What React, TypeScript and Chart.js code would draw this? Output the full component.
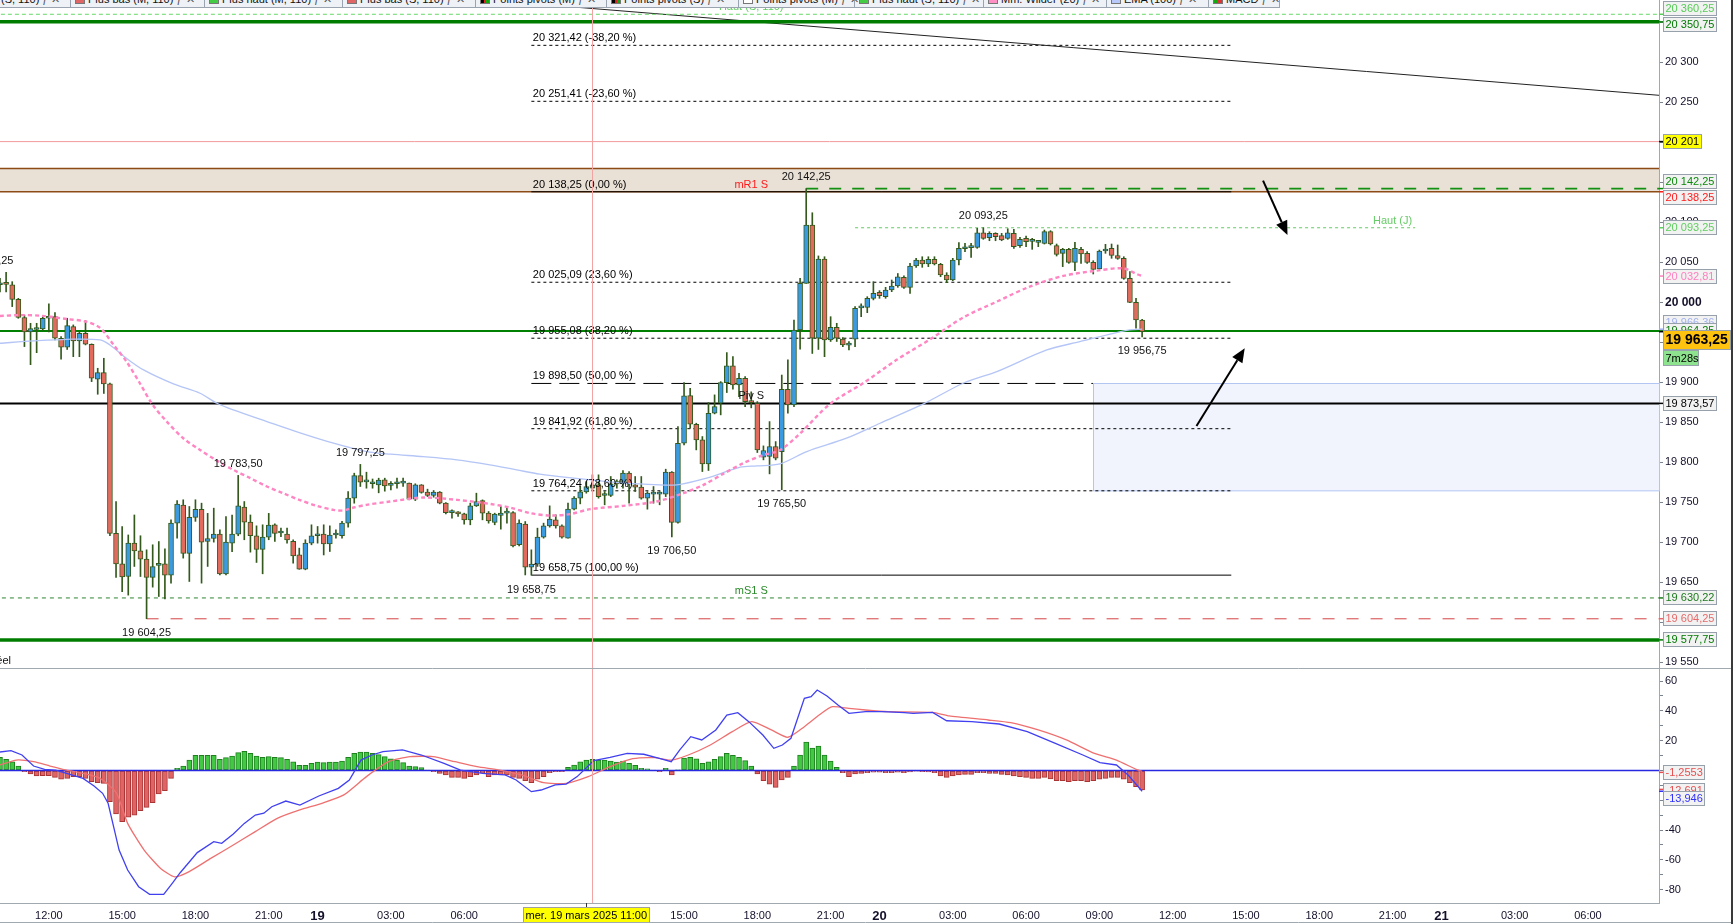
import React, { useEffect, useRef } from 'react';
import { Chart, registerables } from 'chart.js';
Chart.register(...registerables);

// ================= DATA =================
// 15-minute bars, index 0 = Tue 18 Mar 2025 10:00 (22:00-23:00 daily break skipped)
// [open, high, low, close]
const OHLC: number[][] = [
  [20022, 20030, 20013, 20023.5], [20023.5, 20037.5, 20013, 20022.5], [20021.7, 20025.8, 19994.6, 20003.75], [20003.75, 20005, 19980, 19981],
  [19981, 19984, 19944.6, 19963], [19963, 19973.75, 19922, 19967], [19966, 19973.75, 19937, 19967], [19966.7, 19982, 19965, 19980],
  [19980, 19998, 19963, 19981], [19982, 19987, 19953, 19955], [19955, 19957, 19928.75, 19943.75], [19943.75, 19980, 19941, 19970.8],
  [19969.6, 19971.7, 19932, 19951.7], [19951.7, 19963.3, 19932, 19961.25], [19961.25, 19977, 19946.7, 19947.5], [19947.5, 19948, 19900.8, 19905],
  [19903.75, 19917.5, 19885, 19912], [19912, 19930, 19886, 19898], [19898, 19899, 19708, 19711], [19711, 19750.8, 19656, 19672.9],
  [19672.9, 19719.6, 19638, 19656.5], [19657, 19709, 19633.75, 19698.75], [19698.75, 19734, 19669.6, 19689], [19689, 19708, 19657, 19678.75],
  [19678.75, 19690.4, 19604.25, 19656], [19656, 19696.7, 19643.75, 19669.6], [19671, 19700.8, 19632, 19673], [19672.9, 19691.7, 19629, 19658.75],
  [19658.75, 19728, 19648.75, 19723.75], [19723.75, 19752, 19705, 19747.5], [19746.25, 19753, 19680, 19686], [19686, 19744.6, 19650.8, 19731],
  [19731, 19753, 19726, 19741], [19741, 19748.75, 19648.75, 19700], [19700.8, 19736, 19669.6, 19704.6], [19704.6, 19742.5, 19700, 19710],
  [19710, 19715.4, 19659, 19660.4], [19660.4, 19732, 19659, 19700], [19698.75, 19734, 19688, 19710], [19710, 19783.5, 19708, 19745.4],
  [19743.75, 19750.8, 19703, 19725], [19725, 19734, 19687.5, 19708], [19708, 19720.4, 19674.6, 19691], [19691, 19721.7, 19660.4, 19706.25],
  [19706.25, 19736, 19703, 19721.25], [19721.7, 19723, 19700.8, 19711], [19711.5, 19717.5, 19707, 19712], [19710, 19717.5, 19698.75, 19702.9],
  [19701, 19703, 19673.75, 19682.9], [19684, 19692.5, 19666, 19666.25], [19666.25, 19703, 19665.4, 19698.75], [19698.75, 19721.7, 19696.7, 19708],
  [19708, 19719.6, 19698.75, 19710], [19710, 19721.7, 19684, 19697.9], [19697.9, 19720.4, 19688.3, 19709], [19709, 19715.4, 19705, 19710],
  [19708, 19726, 19705, 19723.75], [19723.75, 19763.3, 19718.75, 19755], [19755, 19786.25, 19748.75, 19783.3], [19783.3, 19797.25, 19769.6, 19775],
  [19775.4, 19787.5, 19767.5, 19775.8], [19773, 19779, 19767.5, 19773.5], [19771.7, 19780, 19761.7, 19777.5], [19777.9, 19780, 19763.75, 19770.4],
  [19771, 19775.8, 19765.4, 19771.25], [19773, 19780, 19767.5, 19773.5], [19773.75, 19780, 19769.6, 19774], [19773.75, 19774, 19752.9, 19753.75],
  [19753.75, 19773, 19752, 19771.7], [19771.7, 19772, 19761.25, 19762.1], [19762.5, 19766.25, 19757, 19758.3], [19758.3, 19764.6, 19756.25, 19762.5],
  [19762.5, 19763.3, 19747.9, 19748.75], [19748.75, 19749.6, 19735.4, 19737], [19737, 19740.4, 19730, 19737.5], [19735.8, 19738.3, 19732.1, 19735.4],
  [19735.4, 19736.25, 19722.5, 19727.9], [19727.9, 19748.75, 19721.7, 19745.4], [19745.4, 19761.25, 19744.6, 19750.8], [19752, 19752.9, 19727.9, 19736.25],
  [19736.25, 19738.3, 19723.75, 19726.7], [19724.6, 19736.25, 19721.7, 19735], [19733.3, 19744.6, 19716.25, 19736.25], [19736.25, 19744.6, 19723.75, 19738.3],
  [19737, 19738.3, 19694, 19695.4], [19696.7, 19727.9, 19695.4, 19723.75], [19722.5, 19725.8, 19659, 19668.75], [19668.75, 19690.4, 19658.75, 19672.5],
  [19672.5, 19717.5, 19669.6, 19706.25], [19706.25, 19723.75, 19705, 19720.4], [19720.4, 19745.4, 19718.75, 19728.75], [19727.9, 19734.2, 19717.5, 19720.4],
  [19720.4, 19721.7, 19705, 19706.25], [19705, 19748.75, 19705, 19741.25], [19741.25, 19757, 19740.4, 19755], [19755, 19769.6, 19747.9, 19762.9],
  [19762.9, 19775.8, 19761.25, 19769.6], [19767.5, 19784.2, 19765.4, 19771.7], [19771.7, 19784.2, 19755, 19757], [19758.3, 19763.3, 19746.7, 19758.7],
  [19758.3, 19782.1, 19757, 19772.9], [19775.8, 19777.9, 19767.5, 19772.9], [19772.9, 19789.6, 19767.5, 19786.25], [19786.25, 19788.3, 19748.75, 19772.5],
  [19771.7, 19782.1, 19763.3, 19768.75], [19768.75, 19782.1, 19753.75, 19755], [19755, 19763.3, 19741.25, 19761.25], [19760, 19769.6, 19748.75, 19760.25],
  [19760, 19763.3, 19746.7, 19760.25], [19760, 19791.25, 19757, 19787.5], [19787.5, 19788.3, 19706.5, 19724.6], [19724.6, 19844.6, 19723.75, 19823.75],
  [19823.75, 19899.6, 19821.7, 19882.9], [19883.3, 19892.5, 19842.5, 19847.5], [19847.5, 19848.75, 19815.4, 19827.9], [19827.9, 19832.1, 19788.3, 19797.9],
  [19797.9, 19874.6, 19789.6, 19861.25], [19861.25, 19884.2, 19860.4, 19869.6], [19873.75, 19900.8, 19859.2, 19899.6], [19899.6, 19937.1, 19887.1, 19920.4],
  [19920.4, 19932.1, 19891.25, 19896.7], [19896.7, 19911.25, 19882.1, 19905], [19905, 19907.1, 19869.6, 19875.8], [19876, 19888, 19868, 19874.6],
  [19873.75, 19875.8, 19812.1, 19815.4], [19806.25, 19820.4, 19802.9, 19814.6], [19807.1, 19850.8, 19785.4, 19819.6], [19819.6, 19825.8, 19802.9, 19805],
  [19813.3, 19909, 19765.5, 19891.25], [19891.25, 19928, 19861.25, 19871.7], [19871.7, 19977.9, 19869.6, 19965.4], [19965.4, 20030, 19941.25, 20023.75],
  [20023.75, 20142.25, 20023.75, 20096.7], [20096.7, 20112, 19936, 19955], [19955, 20058, 19941, 20054], [20054, 20057, 19932, 19953],
  [19953, 19982, 19951, 19968.75], [19968.75, 19973.75, 19951, 19955], [19954, 19955.8, 19944.6, 19946.7], [19946.5, 19950.8, 19940.4, 19946.7],
  [19954, 19994.6, 19944.6, 19992.5], [19993, 19998, 19982, 19994], [19993.75, 20007, 19987, 20005], [20005, 20025.8, 20003, 20011.25],
  [20012.5, 20014.6, 20005, 20008.3], [20007, 20018.75, 20005, 20015.4], [20015.4, 20027.9, 20013.3, 20020.4], [20020.4, 20036, 20018.75, 20032],
  [20031.25, 20033, 20017.5, 20018.75], [20018.75, 20048.75, 20011.25, 20045.4], [20045.4, 20055, 20043.75, 20052.9], [20052.9, 20057, 20043.75, 20047.9],
  [20047.9, 20057, 20044.6, 20053.75], [20053.75, 20057, 20046.7, 20047.9], [20047.5, 20048.75, 20032, 20034.2], [20034.2, 20037, 20024.6, 20027.9],
  [20027.9, 20055, 20027, 20052.9], [20052.9, 20074.6, 20046.7, 20067.5], [20067, 20073.75, 20063.3, 20067.5], [20068.3, 20073.75, 20056.25, 20068.75],
  [20068.75, 20092.5, 20067.5, 20087], [20087, 20093.25, 20078.75, 20080], [20080.8, 20088.3, 20077, 20086.25], [20086.25, 20087, 20077, 20082],
  [20083.3, 20086.25, 20077, 20078], [20080, 20092, 20078.75, 20087], [20086.25, 20091.25, 20067.5, 20069.6], [20070.8, 20081.25, 20068.75, 20078.75],
  [20080, 20082.9, 20069.6, 20075.8], [20076.25, 20080, 20066.25, 20076.7], [20075, 20077, 20069.6, 20075.4], [20073.75, 20090.4, 20072.9, 20088.3],
  [20088.3, 20089.6, 20071.7, 20072.9], [20070.8, 20072.9, 20057.9, 20060], [20061.25, 20067.5, 20044.6, 20066.25], [20066.25, 20067.5, 20048.75, 20050],
  [20050, 20075, 20039.6, 20067.5], [20066.25, 20068.75, 20048.75, 20060.4], [20061.25, 20063.3, 20048.75, 20050], [20050, 20052, 20035.4, 20041.25],
  [20041.7, 20065.4, 20041.25, 20064.2], [20064.2, 20072.5, 20061.25, 20066.7], [20067.5, 20072.9, 20055, 20058.75], [20058.3, 20071.7, 20053.75, 20055],
  [20055, 20057, 20028.75, 20030], [20030, 20038.3, 19999.6, 20000], [20000, 20005, 19967.5, 19977.9], [19977.9, 19978.75, 19956.75, 19963.25],
];

// MACD histogram, one value per bar
const HIST: number[] = [
  8.8, 7.5, 5.9, 3, -0.8, -2.3, -3.7, -3.5, -3.5, -4.6, -5.9, -5.3, -4.1, -4.1, -5.3, -7.5, -8.2, -8.6, -20.9, -29.2,
  -34.3, -31.4, -29.9, -27, -24.7, -21.6, -15.8, -13.5, -5.3, 1.5, 3, 7, 10.2, 10.2, 10.2, 10.2, 7.5, 8.6, 9.7, 12,
  12.9, 11.5, 9.7, 8.8, 9.3, 8.8, 8.6, 7.5, 5.9, 3.5, 3.5, 4.8, 5.7, 5.3, 5.7, 5.7, 6.4, 8.8, 11.5, 12.4,
  12.4, 11.5, 10.6, 9.3, 7.9, 7, 5.3, 3, 2.6, 1.9, 0.3, -0.8, -1.9, -3, -4.6, -4.6, -5.3, -4.1, -3, -1.5,
  -4.1, -3, -3, -3, -4.6, -5.3, -6.8, -8.2, -5.9, -4.1, -1.5, -0.8, -0.8, 2.1, 3.7, 5.9, 7, 7.5, 7, 7,
  6.4, 5.7, 6.4, 4.8, 3.5, 1.5, 1.2, 0.3, -0.8, 1.5, -3, 0.5, 8.4, 8.8, 7.9, 4.8, 5.9, 7.5, 9.3, 11.5,
  10.2, 8.8, 6.6, 3, -2.3, -6.8, -9.1, -11.3, -6.4, -4.6, 3, 10.4, 19.1, 15.1, 16.4, 10.4, 6.4, 2.1, -1.5, -4.1,
  -2.3, -1.9, -1.5, -1.2, -1.2, -1.5, -1.5, -1.2, -1.5, -1, -0.5, -0.8, -1, -1.5, -3.7, -4.6, -3.7, -3, -2.6, -2.6,
  -1.5, -1.5, -1.9, -1.9, -2.6, -3, -3.7, -4.1, -4.6, -5.3, -5.3, -4.6, -5.7, -6.8, -6.8, -7.5, -6.8, -6.8, -7.5, -6.8,
  -5.9, -5.3, -4.6, -4.6, -5.9, -8.2, -10.8, -13.1,
];

// MACD line [bar index, value]
const MACD_PTS: number[][] = [
  [0, 12.4], [1.8, 13.3], [3.6, 10.4], [5.5, 3], [7.3, 0.8], [9.1, 0.3], [10.9, -1.9], [13.6, -5.3], [15.4, -10.4], [16.8, -15.3],
  [17.7, -22], [18.6, -37.7], [19.5, -53.4], [20.9, -66.8], [22.7, -78], [24.5, -83.1], [26.8, -83.1], [28.2, -75.7], [29.5, -68.6], [32.3, -55.1],
  [35, -47.8], [36.3, -48.9], [38.2, -42.6], [40, -35.5], [41.8, -29.9], [43.2, -28.7], [44.5, -24.3], [46.8, -20.5], [49.1, -23.2], [52.2, -17.1],
  [55.4, -12], [57.2, -6.4], [59.1, 7], [60.9, 10.4], [62.7, 12.6], [65.9, 13.8], [69, 10.4], [72.7, 4.8], [75.4, 0.3], [79, -1.9],
  [82.7, -3], [84.5, -6.4], [87, -14.2], [88.6, -13.1], [90.9, -9.7], [92.7, -9.1], [94.5, -4.1], [97.2, 6.6], [99.9, 8.8], [102.7, 11.5],
  [105.4, 10.9], [108.1, 7.9], [109.9, 5.9], [111.3, 13.8], [113.1, 22.7], [114.9, 20.5], [117.2, 27.2], [119, 37.2], [120.8, 38.8], [122.6, 32.8],
  [124.9, 23.8], [126.7, 14.9], [128.1, 17.1], [129.5, 21.6], [131.7, 48.4], [132.8, 49.6], [133.8, 54], [135.4, 50], [137.2, 44], [139, 38.4],
  [141.7, 39.5], [144.5, 39.5], [148.1, 38.8], [149.5, 38.4], [152.7, 39], [155, 33.4], [159.1, 32.8], [163.6, 31.2], [168.2, 26.1], [172.8, 18.2],
  [177.3, 10.4], [180.1, 5.3], [182.8, 3.7], [184.7, -3], [187, -13.946],
];

// Signal line [bar index, value]
const SIGNAL_PTS: number[][] = [
  [0, 3.7], [2.7, 7], [5.5, 5.9], [8.2, 3], [10.9, 0.3], [13.6, -1.9], [16.4, -5.3], [19.1, -15.3], [20.9, -35.5], [23.6, -53.4],
  [26.3, -65.7], [28.6, -71.4], [30.9, -68], [34.5, -59], [38.2, -50], [41.8, -41], [45.4, -32.1], [49.1, -26.5], [52.7, -22], [56.3, -16.4],
  [60, -4.1], [63.6, 5.9], [67.2, 9.3], [70.9, 9.3], [74.5, 5.9], [78.1, 2.6], [81.8, 0.3], [85.4, -3], [89, -8.2], [92.7, -8.6],
  [96.3, -4.1], [99.9, 2.6], [103.6, 7.9], [107.2, 8.6], [109.9, 7], [112.7, 10.4], [116.3, 17.1], [119.9, 26.1], [123.1, 32.8], [126.3, 27.2],
  [129, 22.3], [131.7, 29.4], [134.5, 38.4], [136.3, 42.8], [139, 41.7], [141.7, 40.6], [145.4, 39.5], [152.7, 39], [155.4, 36.6], [161.8, 33.9],
  [165.5, 32.1], [170, 27.2], [174.6, 20.5], [179.2, 11.5], [182.8, 7], [186, 0.8], [187, -0.6],
];

// Mm. Wilder (20) - pink dashed [bar index, price]
const WILDER_PTS: number[][] = [
  [0, 19982.9], [3.3, 19984], [7, 19983], [11, 19979], [14, 19976], [16.4, 19968], [18.6, 19946.7], [20.7, 19926], [22.9, 19898.75], [25, 19871.7],
  [27.3, 19850.8], [30, 19830], [32.75, 19815.4], [35.5, 19802], [38.2, 19790.4], [41, 19780], [43.7, 19769.6], [46.4, 19761], [49, 19752.9], [51.9, 19745.4],
  [54.6, 19740.4], [56.2, 19739.6], [57.9, 19743.3], [60, 19746.7], [63.85, 19750.8], [69.3, 19755.8], [74.8, 19752.9], [80.2, 19747.9], [83.5, 19743.3], [86.8, 19736.25],
  [90.05, 19733.3], [93.3, 19735], [96.6, 19741.25], [102.1, 19745.4], [107.5, 19750.8], [111.9, 19761.25], [115.2, 19771.7], [118.4, 19785.4], [121.7, 19798.75], [125, 19809],
  [127.7, 19815], [131, 19836], [135.9, 19872.9], [141.3, 19898.75], [146.8, 19928], [152.3, 19953.75], [157.7, 19981], [163.2, 20000.8], [168.6, 20019.6], [174.1, 20033],
  [179.6, 20039.6], [183.9, 20042.5], [186.1, 20035.4], [187, 20032.81],
];

// EMA (100) - light blue [bar index, price]
const EMA100_PTS: number[][] = [
  [0, 19948.75], [5.5, 19951.7], [11, 19953.75], [16.4, 19953], [18, 19946.7], [20.7, 19930], [23.5, 19915.4], [28.4, 19897.9], [32.75, 19886.25], [35.5, 19873.75],
  [38.2, 19865.4], [43.7, 19850.8], [49, 19837], [54.6, 19823.75], [60, 19813.3], [64, 19810], [69.3, 19807], [74.8, 19803], [80.2, 19796.7], [84.6, 19790.4],
  [88.4, 19785], [93.9, 19780], [99.3, 19775.8], [104.8, 19772.9], [110.8, 19771.7], [115.7, 19780], [121.2, 19793.75], [123.9, 19795.4], [127.7, 19797.9], [132.1, 19813.3],
  [138.6, 19830], [144.1, 19848.75], [151.2, 19872.9], [157.7, 19898.75], [163.2, 19913.3], [171.4, 19940.4], [176.8, 19950.8], [182.3, 19961.25], [185, 19965.4], [187, 19966.36],
];

// Fibonacci retracement
const FIB_PRICES = [20321.42, 20251.41, 20138.25, 20025.09, 19955.08, 19898.5, 19841.92, 19764.24, 19658.75];
const FIB_PCTS = [-38.2, -23.6, 0, 23.6, 38.2, 50, 61.8, 78.6, 100];
const FIB_FROM = 87;
const FIB_TO = 201.6;
const FIB_MID_TO = 178.95;

// Pivot points
const PIVOT_NAMES = ['mR1 S', 'Piv S', 'mS1 S'];
const PIVOT_PRICES = [20138.25, 19873.57, 19630.22];
const PIVOT_LABEL_AT = 123;

// Other levels
const HAUT_S = 20360.25;
const HAUT_M = 20350.75;
const BAS_M = 19577.75;
const BAS_S = 19604.25;
const BAS_S_FROM = 24;
const RED_LEVEL = 20201;
const GREEN_LEVEL = 19964.25;
const HIGH_LEVEL = 20142.25;
const HIGH_LEVEL_FROM = 132;
const HAUT_J = 20093.25;
const HAUT_J_FROM = 140;
const HAUT_J_TO = 231.7;
const ZONE_TOP = 20167.5;
const ZONE_BOTTOM = 20138.25;
const BOX_TOP = 19898.5;
const BOX_BOTTOM = 19764.24;
const BOX_FROM = 178.95;
const TREND_X = [80, 271.63];
const TREND_Y = [20378.0, 20258.9];
const ARROWS: number[][] = [[206.8, 20152.1, 210.8, 20084.2], [195.9, 19845.3, 203.8, 19942.5]];

// Extreme labels [bar index, price, 1 = high / 0 = low]
const EXTREMES: number[][] = [
  [-1.8, 20037.25, 1], [39, 19783.5, 1], [59, 19797.25, 1], [132, 20142.25, 1], [161, 20093.25, 1],
  [24, 19604.25, 0], [87, 19658.75, 0], [110, 19706.5, 0], [128, 19765.5, 0], [187, 19956.75, 0],
];

// Price axis
const PRICE_TICKS = [19550, 19600, 19650, 19700, 19750, 19800, 19850, 19900, 19950, 20000, 20050, 20100, 20150, 20200, 20250, 20300, 20350];
const AXIS_TAG_PRICES = [20360.25, 20350.75, 20201, 20142.25, 20138.25, 20093.25, 20032.81, 19966.36, 19964.25, 19873.57, 19630.22, 19604.25, 19577.75];
const COUNTDOWN = '7m28s';

// MACD axis
const MACD_TICKS = [-80, -70, -60, -50, -40, -30, -20, -10, 0, 10, 20, 30, 40, 50, 60];
const MACD_TAG_VALUES = [-1.2553, -12.691, -13.946];

// Time axis
const TIME_TICK_IDX = [8, 20, 32, 44, 52, 64, 76, 112, 124, 136, 144, 156, 168, 180, 192, 204, 216, 228, 236, 248, 260];
const TIME_TICK_LABELS = ['12:00', '15:00', '18:00', '21:00', '19', '03:00', '06:00', '15:00', '18:00', '21:00', '20', '03:00', '06:00', '09:00', '12:00', '15:00', '18:00', '21:00', '21', '03:00', '06:00'];
const CURSOR_IDX = 97;
const CURSOR_LABEL_IDX = 96;
const CURSOR_LABEL = 'mer. 19 mars 2025 11:00';

// Toolbar
const TAB_LABELS = ['(S, 110)', 'Plus bas (M, 110)', 'Plus haut (M, 110)', 'Plus bas (S, 110)', 'Points pivots (M)', 'Points pivots (S)', 'Points pivots (M)', 'Plus haut (S, 110)', 'Mm. Wilder (20)', 'EMA (100)', 'MACD'];

// ================= STYLE / LAYOUT =================
const FONT = '"Liberation Sans", Arial, Helvetica, sans-serif';
const W = 1735;
const PLOT_RIGHT = 1659;
const PRICE_H = 669;
const MACD_H = 255;
const X_MIN = 0;
const X_MAX = 271.63;
const Y_MAX = 20378.11;
const Y_MIN = 19541.34;
const M_MAX = 68.12;
const M_MIN = -88.93;
const WICK = '#335a1c';
const UP = '#3a9ae2';
const DOWN = '#e36b5e';
const TAB_WIDTHS = [71, 134, 138, 133, 131, 132, 116, 129, 123, 102, 71];
const TAB_SWATCH = ['', '#e06666', '#44cc44', '#e06666', 'p', 'p', '#ffffff', '#44cc44', '#ff8fc4', '#b8c8f8', 'm'];
const TAG_COLORS = ['#55cc55', '#007a00', '#000000', '#0a8a0a', '#ff1a1a', '#5fcf5f', '#ff7fbf', '#9fb0ee', '#0a7a0a', '#000000', '#1d7a1d', '#e66a6a', '#007a00'];
const TAG_DY = [-6, 3, 0, -7, 6, 0, 0, -7, 0, 0, 0, 0, 0];
const MTAG_COLORS = ['#e65050', '#e65050', '#3030ff'];
const MTAG_DY = [0, 1, 7];

const fmt = (v: number, d = 2) => {
  const s = Math.abs(v).toFixed(d);
  const parts = s.split('.');
  const intS = parts[0].replace(/\B(?=(\d{3})+(?!\d))/g, ' ');
  return (v < 0 ? '-' : '') + intS + (parts[1] ? ',' + parts[1] : '');
};
const fmtTag = (v: number) => (Number.isInteger(v) ? fmt(v, 0) : fmt(v, 2));

function hline(ctx: any, x1: number, y: number, x2: number) {
  ctx.beginPath(); ctx.moveTo(x1, y); ctx.lineTo(x2, y); ctx.stroke();
}
function vline(ctx: any, x: number, y1: number, y2: number) {
  ctx.beginPath(); ctx.moveTo(x, y1); ctx.lineTo(x, y2); ctx.stroke();
}
function text(ctx: any, s: string, x: number, y: number, color: string, align = 'left', font = `11px ${FONT}`) {
  ctx.font = font; ctx.fillStyle = color; ctx.textAlign = align; ctx.textBaseline = 'alphabetic'; ctx.fillText(s, x, y);
}
function tagBox(ctx: any, xl: number, yc: number, s: string, color: string, bg: string, font = `11px ${FONT}`, h = 15, w = 0) {
  ctx.font = font;
  const bw = w || Math.round(ctx.measureText(s).width + 5);
  const top = Math.round(yc - h / 2);
  ctx.fillStyle = bg; ctx.fillRect(xl, top, bw, h);
  ctx.strokeStyle = '#97a1ab'; ctx.lineWidth = 1; ctx.strokeRect(xl + 0.5, top + 0.5, bw - 1, h - 1);
  ctx.fillStyle = color; ctx.textAlign = 'left'; ctx.textBaseline = 'middle';
  ctx.fillText(s, xl + 2.5, top + h / 2 + 0.5);
}
function arrow(ctx: any, x1: number, y1: number, x2: number, y2: number) {
  const a = Math.atan2(y2 - y1, x2 - x1);
  const L = 14, hw = 6;
  const bx = x2 - L * Math.cos(a), by = y2 - L * Math.sin(a);
  ctx.strokeStyle = '#000'; ctx.lineWidth = 2;
  ctx.beginPath(); ctx.moveTo(x1, y1); ctx.lineTo(bx, by); ctx.stroke();
  ctx.fillStyle = '#000';
  ctx.beginPath(); ctx.moveTo(x2, y2);
  ctx.lineTo(bx + hw * Math.sin(a), by - hw * Math.cos(a));
  ctx.lineTo(bx - hw * Math.sin(a), by + hw * Math.cos(a));
  ctx.closePath(); ctx.fill();
}

const levelDs = (p: number, from: number, to: number, color: string, width: number, dash: number[] = [], order = 6) => ({
  type: 'line', data: [{ x: from, y: p }, { x: to, y: p }], borderColor: color, borderWidth: width,
  borderDash: dash, pointRadius: 0, fill: false, order, tension: 0,
});

const pricePlugin = {
  id: 'priceDecor',
  beforeDatasetsDraw(chart: any) {
    const { ctx, chartArea: a, scales } = chart;
    const x = scales.x, y = scales.y;
    ctx.save();
    const zt = y.getPixelForValue(ZONE_TOP), zb = y.getPixelForValue(ZONE_BOTTOM);
    ctx.fillStyle = '#e9e0d6'; ctx.fillRect(a.left, zt, a.right - a.left, zb - zt);
    ctx.strokeStyle = '#8c4a14'; ctx.lineWidth = 1.5;
    hline(ctx, a.left, zt, a.right); hline(ctx, a.left, zb, a.right);
    const bx = x.getPixelForValue(BOX_FROM), bt = y.getPixelForValue(BOX_TOP), bb = y.getPixelForValue(BOX_BOTTOM);
    ctx.fillStyle = '#f1f4fd'; ctx.fillRect(bx, bt, a.right - bx, bb - bt);
    ctx.strokeStyle = '#b3c6f3'; ctx.lineWidth = 1;
    ctx.strokeRect(Math.round(bx) + 0.5, Math.round(bt) + 0.5, a.right - bx, bb - bt);
    ctx.restore();
  },
  afterDatasetsDraw(chart: any) {
    const { ctx, scales } = chart;
    const x = scales.x, y = scales.y;
    ctx.save();
    FIB_PRICES.forEach((p, i) => {
      const s = `${fmt(p)} (${FIB_PCTS[i].toFixed(2).replace('.', ',')} %)`;
      text(ctx, s, x.getPixelForValue(FIB_FROM) + 1.5, y.getPixelForValue(p) - 4, '#000');
    });
    const pcol = ['#ff1a1a', '#111111', '#2a8a2a'];
    PIVOT_NAMES.forEach((n, i) => {
      text(ctx, n, x.getPixelForValue(PIVOT_LABEL_AT), y.getPixelForValue(PIVOT_PRICES[i]) - 4, pcol[i], 'center');
    });
    text(ctx, 'Haut (S, 110)', x.getPixelForValue(PIVOT_LABEL_AT), y.getPixelForValue(HAUT_S) - 4, '#5fd05f', 'center');
    text(ctx, 'Haut (J)', x.getPixelForValue(HAUT_J_TO) - 3, y.getPixelForValue(HAUT_J) - 4, '#66cc66', 'right');
    EXTREMES.forEach(([i, p, hi]) => {
      const px = x.getPixelForValue(i), py = y.getPixelForValue(p);
      text(ctx, fmt(p), px, hi ? py - 8.5 : py + 17.5, '#111', 'center');
    });
    ARROWS.forEach(([i1, p1, i2, p2]) => {
      arrow(ctx, x.getPixelForValue(i1), y.getPixelForValue(p1), x.getPixelForValue(i2), y.getPixelForValue(p2));
    });
    ctx.restore();
  },
  afterDraw(chart: any) {
    const { ctx, chartArea: a, scales } = chart;
    const x = scales.x, y = scales.y;
    ctx.save();
    ctx.strokeStyle = '#f4a3a3'; ctx.lineWidth = 1;
    vline(ctx, Math.round(x.getPixelForValue(CURSOR_IDX)) + 0.5, a.top, a.bottom);
    ctx.strokeStyle = '#a0a8b0';
    hline(ctx, 0, PRICE_H - 0.5, 1731);
    ctx.fillStyle = '#3a3a3a'; ctx.fillRect(1731, 0, 2, PRICE_H);
    text(ctx, 'MACD réel', 11, PRICE_H - 5, '#111', 'right');
    const xl = a.right + 4;
    AXIS_TAG_PRICES.forEach((p, i) => {
      const py = y.getPixelForValue(p);
      ctx.strokeStyle = TAG_COLORS[i]; ctx.lineWidth = 1.5;
      hline(ctx, a.right, py, xl);
      tagBox(ctx, xl, py + TAG_DY[i], fmtTag(p), TAG_COLORS[i], p === RED_LEVEL ? '#ffff00' : '#f2f2f2');
    });
    const last = OHLC[OHLC.length - 1][3];
    const ly = y.getPixelForValue(last);
    ctx.strokeStyle = '#000'; ctx.lineWidth = 1.5; hline(ctx, a.right, ly, xl);
    tagBox(ctx, xl, ly + 8, fmt(last), '#000', '#ffc20e', `bold 14px ${FONT}`, 20, 68);
    tagBox(ctx, xl, ly + 26, COUNTDOWN, '#000', '#8ee38e', `11px ${FONT}`, 16, 36);
    ctx.restore();
  },
};

const macdPlugin = {
  id: 'macdDecor',
  afterDraw(chart: any) {
    const { ctx, chartArea: a, scales } = chart;
    const x = scales.x, y = scales.y;
    ctx.save();
    ctx.strokeStyle = '#f4a3a3'; ctx.lineWidth = 1;
    vline(ctx, Math.round(x.getPixelForValue(CURSOR_IDX)) + 0.5, a.top, a.bottom);
    const cx = x.getPixelForValue(CURSOR_LABEL_IDX);
    ctx.strokeStyle = '#333'; vline(ctx, Math.round(cx) + 0.5, a.bottom, a.bottom + 4);
    ctx.font = `11px ${FONT}`;
    const tw = ctx.measureText(CURSOR_LABEL).width + 6;
    ctx.fillStyle = '#ffff00'; ctx.fillRect(Math.round(cx - tw / 2), a.bottom + 4, Math.round(tw), 16);
    ctx.strokeStyle = '#a0a0a0'; ctx.strokeRect(Math.round(cx - tw / 2) + 0.5, a.bottom + 4.5, Math.round(tw) - 1, 15);
    ctx.fillStyle = '#000'; ctx.textAlign = 'center'; ctx.textBaseline = 'middle';
    ctx.fillText(CURSOR_LABEL, cx, a.bottom + 12.5);
    ctx.strokeStyle = '#a0a8b0'; ctx.lineWidth = 1;
    hline(ctx, 0, MACD_H - 1.5, 1731);
    ctx.fillStyle = '#3a3a3a'; ctx.fillRect(1731, 0, 2, MACD_H);
    const xl = a.right + 4;
    MACD_TAG_VALUES.forEach((v, i) => {
      const py = y.getPixelForValue(v);
      ctx.strokeStyle = MTAG_COLORS[i]; ctx.lineWidth = 1.5;
      hline(ctx, a.right, py, xl);
      tagBox(ctx, xl, py + MTAG_DY[i], String(v).replace('.', ','), MTAG_COLORS[i], '#f2f2f2');
    });
    ctx.restore();
  },
};

function priceConfig(): any {
  const fibDs = FIB_PRICES.map((p, i) => {
    if (FIB_PCTS[i] === 50) return levelDs(p, FIB_FROM, FIB_MID_TO, '#000', 1, [20, 8], 7);
    if (FIB_PCTS[i] === 0 || FIB_PCTS[i] === 100) return levelDs(p, FIB_FROM, FIB_TO, '#000', 1, [], 7);
    return levelDs(p, FIB_FROM, FIB_TO, '#000', 1, [3, 3], 7);
  });
  return {
    type: 'bar',
    data: {
      datasets: [
        {
          type: 'line', data: WILDER_PTS.map(([i, v]) => ({ x: i, y: v })), borderColor: '#ff86c2', borderWidth: 2.4,
          borderDash: [4, 3], pointRadius: 0, tension: 0.3, order: 1,
        },
        {
          type: 'line', data: EMA100_PTS.map(([i, v]) => ({ x: i, y: v })), borderColor: '#b4c5f6', borderWidth: 1.3,
          pointRadius: 0, tension: 0.3, order: 2,
        },
        {
          type: 'bar', data: OHLC.map((c, i) => ({ x: i, y: [c[0], c[3]] })),
          backgroundColor: OHLC.map((c) => (c[3] >= c[0] ? UP : DOWN)), borderColor: WICK, borderWidth: 1,
          borderSkipped: false, barThickness: 5, grouped: false, minBarLength: 2, order: 3,
        },
        {
          type: 'bar', data: OHLC.map((c, i) => ({ x: i, y: [c[2], c[1]] })), backgroundColor: WICK,
          borderWidth: 0, barThickness: 1, grouped: false, minBarLength: 1, order: 4,
        },
        levelDs(HIGH_LEVEL, HIGH_LEVEL_FROM, X_MAX + 1, '#119011', 1.8, [12, 11], 5),
        levelDs(HAUT_J, HAUT_J_FROM, HAUT_J_TO, '#66cc66', 1, [3, 3], 5),
        levelDs(GREEN_LEVEL, X_MIN - 1, X_MAX + 1, '#008000', 2, [], 5),
        levelDs(PIVOT_PRICES[1], X_MIN - 1, X_MAX + 1, '#000', 2, [], 5),
        levelDs(PIVOT_PRICES[2], X_MIN - 1, X_MAX + 1, '#2e852e', 1, [4, 4], 5),
        levelDs(BAS_S, BAS_S_FROM, X_MAX + 1, '#e07a7a', 1.4, [12, 12], 5),
        levelDs(BAS_M, X_MIN - 1, X_MAX + 1, '#007c00', 3.5, [], 5),
        levelDs(HAUT_M, X_MIN - 1, X_MAX + 1, '#007c00', 3.5, [], 5),
        levelDs(HAUT_S, X_MIN - 1, X_MAX + 1, '#66d866', 1, [4, 3], 5),
        levelDs(RED_LEVEL, X_MIN - 1, X_MAX + 1, '#f29a9a', 1, [], 5),
        {
          type: 'line', data: TREND_X.map((v, i) => ({ x: v, y: TREND_Y[i] })), borderColor: '#222', borderWidth: 1,
          pointRadius: 0, order: 5,
        },
        ...fibDs,
      ],
    },
    options: {
      animation: false, responsive: false, events: [],
      layout: { padding: 0 },
      plugins: { legend: { display: false }, tooltip: { enabled: false } },
      scales: {
        x: { type: 'linear', min: X_MIN, max: X_MAX, offset: false, display: false, grid: { offset: false } },
        y: {
          type: 'linear', position: 'right', min: Y_MIN, max: Y_MAX, beginAtZero: false,
          grid: { drawOnChartArea: false, drawTicks: true, tickLength: 4, color: '#7a8490' },
          border: { color: '#a0a8b0' },
          ticks: {
            padding: 2, color: '#14102a', autoSkip: false,
            font: (c: any) => ({ family: FONT, size: c.tick && c.tick.value === 20000 ? 12 : 11, weight: c.tick && c.tick.value === 20000 ? 'bold' : 'normal' }),
            callback: (v: number) => fmt(v, 0),
          },
          afterBuildTicks: (s: any) => { s.ticks = PRICE_TICKS.map((v) => ({ value: v })); },
          afterFit: (s: any) => { s.width = W - PLOT_RIGHT; s.paddingTop = 0; s.paddingBottom = 0; },
        },
      },
    },
    plugins: [pricePlugin],
  };
}

function macdConfig(): any {
  return {
    type: 'bar',
    data: {
      datasets: [
        { type: 'line', data: MACD_PTS.map(([i, v]) => ({ x: i, y: v })), borderColor: '#4040f0', borderWidth: 1.3, pointRadius: 0, tension: 0, order: 1 },
        { type: 'line', data: SIGNAL_PTS.map(([i, v]) => ({ x: i, y: v })), borderColor: '#ee7070', borderWidth: 1.3, pointRadius: 0, tension: 0.2, order: 2 },
        { type: 'line', data: [{ x: X_MIN - 1, y: 0 }, { x: X_MAX + 1, y: 0 }], borderColor: '#2828e0', borderWidth: 1.6, pointRadius: 0, order: 3 },
        {
          type: 'bar', data: HIST.map((v, i) => ({ x: i, y: v })),
          backgroundColor: HIST.map((v) => (v >= 0 ? '#42c842' : '#e06464')),
          borderColor: HIST.map((v) => (v >= 0 ? '#1f7f1f' : '#a83434')),
          borderWidth: 1, borderSkipped: false, barThickness: 5, grouped: false, order: 4,
        },
      ],
    },
    options: {
      animation: false, responsive: false, events: [],
      layout: { padding: 0 },
      plugins: { legend: { display: false }, tooltip: { enabled: false } },
      scales: {
        x: {
          type: 'linear', min: X_MIN, max: X_MAX, offset: false, position: 'bottom',
          grid: { display: true, drawOnChartArea: false, drawTicks: false, offset: false },
          border: { color: '#a0a8b0' },
          ticks: {
            autoSkip: false, maxRotation: 0, minRotation: 0, padding: 6, color: '#14102a',
            font: (c: any) => {
              const day = c.tick && [52, 144, 236].indexOf(c.tick.value) >= 0;
              return { family: FONT, size: day ? 13 : 11, weight: day ? 'bold' : 'normal' };
            },
            callback: (v: number) => { const k = TIME_TICK_IDX.indexOf(v); return k >= 0 ? TIME_TICK_LABELS[k] : ''; },
          },
          afterBuildTicks: (s: any) => { s.ticks = TIME_TICK_IDX.map((v) => ({ value: v })); },
          afterFit: (s: any) => { s.height = 21; s.paddingLeft = 0; s.paddingRight = 0; },
        },
        y: {
          type: 'linear', position: 'right', min: M_MIN, max: M_MAX, beginAtZero: false,
          grid: { drawOnChartArea: false, drawTicks: true, tickLength: 4, color: '#7a8490' },
          border: { color: '#a0a8b0' },
          ticks: {
            padding: 2, color: '#14102a', autoSkip: false, font: { family: FONT, size: 11 },
            callback: (v: number) => (v % 20 === 0 ? String(v) : ''),
          },
          afterBuildTicks: (s: any) => { s.ticks = MACD_TICKS.map((v) => ({ value: v })); },
          afterFit: (s: any) => { s.width = W - PLOT_RIGHT; s.paddingTop = 0; s.paddingBottom = 0; },
        },
      },
    },
    plugins: [macdPlugin],
  };
}

function Swatch({ kind }: { kind: string }) {
  const base: any = { display: 'inline-block', width: 10, height: 8, marginRight: 3, verticalAlign: 'middle', border: '1px solid #777', boxSizing: 'border-box' };
  if (kind === 'p') return <span style={{ ...base, background: 'linear-gradient(90deg,#000 0 33%,#d22 33% 66%,#1a1 66%)' }} />;
  if (kind === 'm') return <span style={{ ...base, background: 'linear-gradient(90deg,#1a1 0 50%,#d33 50%)' }} />;
  return <span style={{ ...base, background: kind }} />;
}

function Toolbar() {
  return (
    <div style={{ position: 'absolute', left: 0, top: 0, width: 1280, height: 7, overflow: 'hidden', background: '#eef2f7', borderBottom: '1px solid #9aa4b0', display: 'flex', zIndex: 2, fontFamily: FONT, fontSize: 11 }}>
      {TAB_LABELS.map((l, i) => (
        <div key={i} style={{ width: TAB_WIDTHS[i], height: 7, boxSizing: 'border-box', borderRight: '1px solid #9aa4b0', position: 'relative', flex: 'none' }}>
          <div style={{ position: 'absolute', top: -8, left: i === 0 ? 1 : 4, whiteSpace: 'nowrap', lineHeight: '14px', color: '#111' }}>
            {TAB_SWATCH[i] ? <Swatch kind={TAB_SWATCH[i]} /> : null}
            {l}
            <span style={{ color: '#555', marginLeft: 3 }}>ƒ ✕</span>
          </div>
        </div>
      ))}
    </div>
  );
}

export default function App() {
  const priceRef = useRef<HTMLCanvasElement>(null);
  const macdRef = useRef<HTMLCanvasElement>(null);
  useEffect(() => {
    Chart.defaults.font.family = FONT;
    Chart.defaults.font.size = 11;
    Chart.defaults.color = '#111';
    const c1 = new Chart(priceRef.current as HTMLCanvasElement, priceConfig());
    const c2 = new Chart(macdRef.current as HTMLCanvasElement, macdConfig());
    return () => { c1.destroy(); c2.destroy(); };
  }, []);
  return (
    <div style={{ position: 'fixed', left: 0, top: 0, width: W, height: 924, background: '#fff', overflow: 'hidden' }}>
      <canvas ref={priceRef} width={W} height={PRICE_H} style={{ position: 'absolute', left: 0, top: 0, width: W, height: PRICE_H }} />
      <canvas ref={macdRef} width={W} height={MACD_H} style={{ position: 'absolute', left: 0, top: PRICE_H, width: W, height: MACD_H }} />
      <Toolbar />
    </div>
  );
}
